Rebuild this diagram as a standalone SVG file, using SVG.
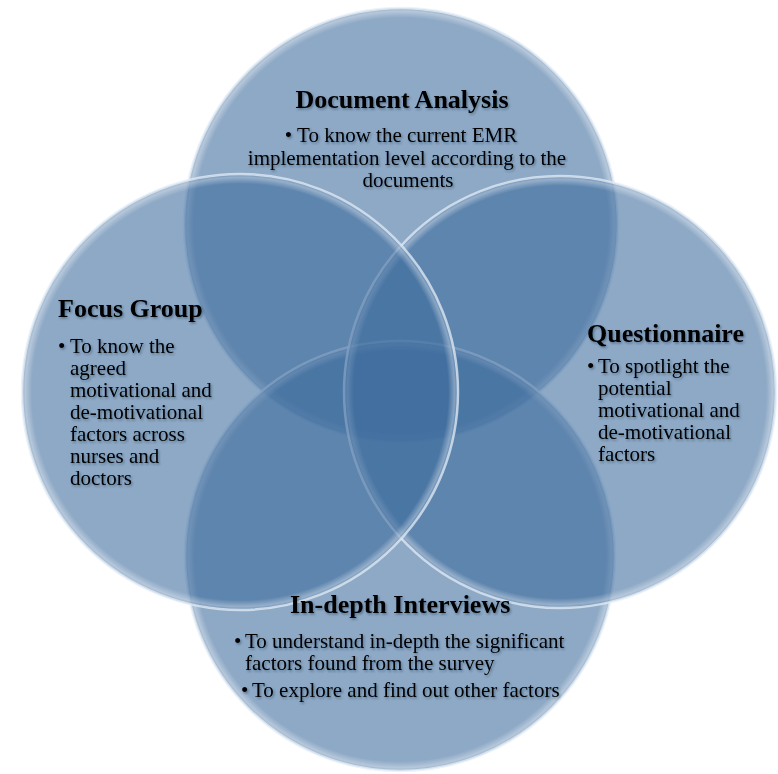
<svg xmlns="http://www.w3.org/2000/svg" width="778" height="774" viewBox="0 0 778 774">
<defs>
<filter id="ts" x="-10%" y="-30%" width="120%" height="160%">
<feDropShadow dx="1.2" dy="1.5" stdDeviation="1.3" flood-color="#1a2a40" flood-opacity="0.45"/>
</filter>
<radialGradient id="rim" cx="50%" cy="50%" r="50%">
<stop offset="0.955" stop-color="#ffffff" stop-opacity="0"/>
<stop offset="0.985" stop-color="#ffffff" stop-opacity="0.35"/>
<stop offset="1" stop-color="#ffffff" stop-opacity="0.1"/>
</radialGradient>
</defs>
<style>
.c{fill:#3d6a9d;fill-opacity:0.58;stroke:#e4edf7;stroke-opacity:0.75;stroke-width:2.5}
.r{fill:url(#rim)}
.t{font-family:"Liberation Serif","Times New Roman",serif;font-weight:bold;font-size:26px;fill:#000}
.b{font-family:"Liberation Serif","Times New Roman",serif;font-size:21px;fill:#000}
.tx{filter:url(#ts)}
</style>
<rect width="778" height="774" fill="#ffffff"/>
<g id="circles">
<g id="doc-circle"><circle class="c" cx="401" cy="225" r="217"/><circle class="r" cx="401" cy="225" r="217"/></g>
<g id="int-circle"><circle class="c" cx="400" cy="556" r="215"/><circle class="r" cx="400" cy="556" r="215"/></g>
<g id="q-circle"><circle class="c" cx="560" cy="392" r="216"/><circle class="r" cx="560" cy="392" r="216"/></g>
<g id="fg-circle"><circle class="c" cx="240" cy="392" r="218"/><circle class="r" cx="240" cy="392" r="218"/></g>
</g>
<g id="connectors"/>
<g class="tx">
<g id="document-analysis">
<text class="t" x="402" y="108" text-anchor="middle">Document Analysis</text>
<text class="b" x="401" y="142" text-anchor="middle">• To know the current EMR</text>
<text class="b" x="407" y="165" text-anchor="middle">implementation level according to the</text>
<text class="b" x="408" y="187" text-anchor="middle">documents</text>
</g>
<g id="focus-group">
<text class="t" x="58" y="317">Focus Group</text>
<text class="b" x="58" y="353">•</text>
<text class="b" x="70" y="353">To know the</text>
<text class="b" x="70" y="375">agreed</text>
<text class="b" x="70" y="397">motivational and</text>
<text class="b" x="70" y="419">de-motivational</text>
<text class="b" x="70" y="441">factors across</text>
<text class="b" x="70" y="463">nurses and</text>
<text class="b" x="70" y="485">doctors</text>
</g>
<g id="questionnaire">
<text class="t" x="587" y="342">Questionnaire</text>
<text class="b" x="587" y="373">•</text>
<text class="b" x="598" y="373">To spotlight the</text>
<text class="b" x="598" y="395">potential</text>
<text class="b" x="598" y="417">motivational and</text>
<text class="b" x="598" y="439">de-motivational</text>
<text class="b" x="598" y="461">factors</text>
</g>
<g id="in-depth-interviews">
<text class="t" x="290" y="613">In-depth Interviews</text>
<text class="b" x="234" y="648">•</text>
<text class="b" x="245" y="648">To understand in-depth the significant</text>
<text class="b" x="245" y="670">factors found from the survey</text>
<text class="b" x="241" y="697">•</text>
<text class="b" x="252" y="697">To explore and find out other factors</text>
</g>
</g>
</svg>
